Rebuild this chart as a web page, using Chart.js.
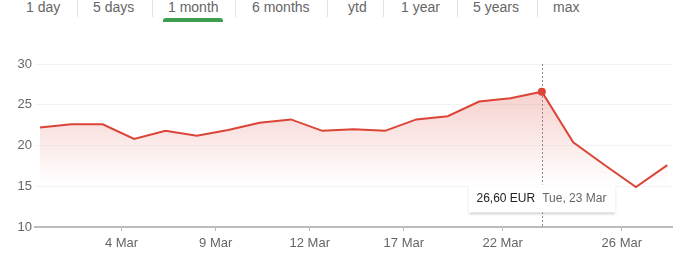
<!DOCTYPE html>
<html>
<head>
<meta charset="utf-8">
<script src="https://cdn.jsdelivr.net/npm/chart.js@4"></script>
<style>
    body { margin: 0; background: #fff; font-family: "Liberation Sans", Arial, sans-serif; }
    #tabs { position: absolute; left: 0; top: 0; width: 687px; height: 30px; }
    .tab { position: absolute; top: 0; font-size: 14px; color: #666; line-height: 14px; white-space: nowrap; }
    .sep { position: absolute; top: 0; width: 1px; height: 17px; background: #e2e2e2; }
    #barra { position: absolute; left: 163px; top: 18px; width: 60px; height: 4px; border-radius: 3px 3px 0 0; background: #3e9e4f; }
    #grafico { position: absolute; left: 0; top: 30px; width: 687px; height: 230px; }
</style>
</head>
<body>
<div id="tabs">
    <span class="tab" style="left:26px">1 day</span>
    <span class="sep" style="left:77px"></span>
    <span class="tab" style="left:93px">5 days</span>
    <span class="sep" style="left:152px"></span>
    <span class="tab" style="left:168px">1 month</span>
    <span class="sep" style="left:235px"></span>
    <span class="tab" style="left:252px">6 months</span>
    <span class="sep" style="left:327px"></span>
    <span class="tab" style="left:348px">ytd</span>
    <span class="sep" style="left:383px"></span>
    <span class="tab" style="left:401px">1 year</span>
    <span class="sep" style="left:457px"></span>
    <span class="tab" style="left:473px">5 years</span>
    <span class="sep" style="left:537px"></span>
    <span class="tab" style="left:553px">max</span>
    <div id="barra"></div>
</div>
<div id="grafico"><canvas id="chart-cotacao"></canvas></div>
<script>
// Dias de negociação (março)
const dias = ['Mon, 1 Mar', 'Tue, 2 Mar', 'Wed, 3 Mar', 'Thu, 4 Mar', 'Fri, 5 Mar',
    'Mon, 8 Mar', 'Tue, 9 Mar', 'Wed, 10 Mar', 'Thu, 11 Mar', 'Fri, 12 Mar',
    'Mon, 15 Mar', 'Tue, 16 Mar', 'Wed, 17 Mar', 'Thu, 18 Mar', 'Fri, 19 Mar',
    'Mon, 22 Mar', 'Tue, 23 Mar', 'Wed, 24 Mar', 'Thu, 25 Mar', 'Fri, 26 Mar', 'Mon, 29 Mar'];
const precos = [22.2, 22.6, 22.6, 20.8, 21.8, 21.2, 21.9, 22.8, 23.2, 21.8,
    22.0, 21.8, 23.2, 23.6, 25.4, 25.8, 26.6, 20.4, 17.6, 14.9, 17.6];
// Marcas do eixo x (posição em dias de negociação)
const posMarcas = [2.6, 5.6, 8.6, 11.6, 14.75, 18.55];
const rotulosMarcas = ['4 Mar', '9 Mar', '12 Mar', '17 Mar', '22 Mar', '26 Mar'];
const indiceAtivo = 16;

const vermelho = '#db4437';

// Plugin para a linha pontilhada e a caixa de informação
const pluginDica = {
    id: 'dica',
    afterDatasetsDraw(chart) {
        const ctx = chart.ctx;
        const area = chart.chartArea;
        const x = chart.scales.x.getPixelForValue(indiceAtivo);
        const y = chart.scales.y.getPixelForValue(precos[indiceAtivo]);

        ctx.save();
        ctx.strokeStyle = '#888';
        ctx.lineWidth = 1;
        ctx.setLineDash([2, 2]);
        ctx.beginPath();
        ctx.moveTo(Math.round(x) + 0.5, area.top);
        ctx.lineTo(Math.round(x) + 0.5, area.bottom);
        ctx.stroke();
        ctx.setLineDash([]);

        ctx.fillStyle = vermelho;
        ctx.beginPath();
        ctx.arc(x, y, 4, 0, Math.PI * 2);
        ctx.fill();

        const valor = precos[indiceAtivo].toFixed(2).replace('.', ',') + ' EUR';
        const data = dias[indiceAtivo];
        ctx.font = '12px "Liberation Sans", Arial, sans-serif';
        const w1 = ctx.measureText(valor).width;
        const w2 = ctx.measureText(data).width;
        const largura = w1 + w2 + 24;
        const bx = Math.round(x - largura / 2) + 0.5;
        const by = area.bottom - 43 + 0.5;
        ctx.shadowColor = 'rgba(0,0,0,0.3)';
        ctx.shadowBlur = 3;
        ctx.shadowOffsetY = 1;
        ctx.fillStyle = '#fff';
        ctx.fillRect(bx, by, largura, 28);
        ctx.shadowColor = 'transparent';
        ctx.textBaseline = 'middle';
        ctx.fillStyle = '#222';
        ctx.fillText(valor, bx + 8, by + 14);
        ctx.fillStyle = '#666';
        ctx.fillText(data, bx + 8 + w1 + 7, by + 14);
        ctx.restore();
    }
};

const dados = {
    datasets: [{
        label: 'Preço',
        data: precos.map((p, i) => ({ x: i, y: p })),
        borderColor: vermelho,
        borderWidth: 2,
        pointRadius: 0,
        tension: 0,
        fill: 'start',
        backgroundColor: function (context) {
            const area = context.chart.chartArea;
            if (!area) return 'rgba(219,68,55,0.1)';
            const g = context.chart.ctx.createLinearGradient(0, area.top, 0, area.top + 120);
            g.addColorStop(0, 'rgba(219,68,55,0.32)');
            g.addColorStop(1, 'rgba(219,68,55,0)');
            return g;
        }
    }]
};

const config = {
    type: 'line',
    data: dados,
    plugins: [pluginDica],
    options: {
        responsive: true,
        maintainAspectRatio: false,
        animation: false,
        layout: { padding: { top: 34, right: 15, left: 0, bottom: 0 } },
        plugins: { legend: { display: false }, tooltip: { enabled: false } },
        scales: {
            x: {
                type: 'linear',
                min: -0.16,
                max: 20.15,
                afterBuildTicks: function (scale) {
                    scale.ticks = posMarcas.map(v => ({ value: v }));
                },
                afterFit: function (scale) { scale.height = 33; },
                ticks: {
                    autoSkip: false,
                    maxRotation: 0,
                    color: '#666',
                    font: { size: 13, family: '"Liberation Sans", Arial, sans-serif' },
                    padding: 5,
                    callback: function (v) {
                        const k = posMarcas.indexOf(v);
                        return k >= 0 ? rotulosMarcas[k] : '';
                    }
                },
                grid: { drawOnChartArea: false, drawTicks: true, tickLength: 4, color: '#bbb' },
                border: { color: '#bbb', width: 2 }
            },
            y: {
                min: 10,
                max: 30,
                afterFit: function (scale) { scale.width = 35; },
                ticks: {
                    stepSize: 5,
                    color: '#666',
                    font: { size: 13, family: '"Liberation Sans", Arial, sans-serif' },
                    padding: 3
                },
                grid: {
                    drawTicks: false,
                    color: function (c) { return c.tick.value === 10 ? 'rgba(0,0,0,0)' : '#f3f3f3'; }
                },
                border: { display: false }
            }
        }
    }
};

let myChart = new Chart(document.getElementById('chart-cotacao'), config);
</script>
</body>
</html>
